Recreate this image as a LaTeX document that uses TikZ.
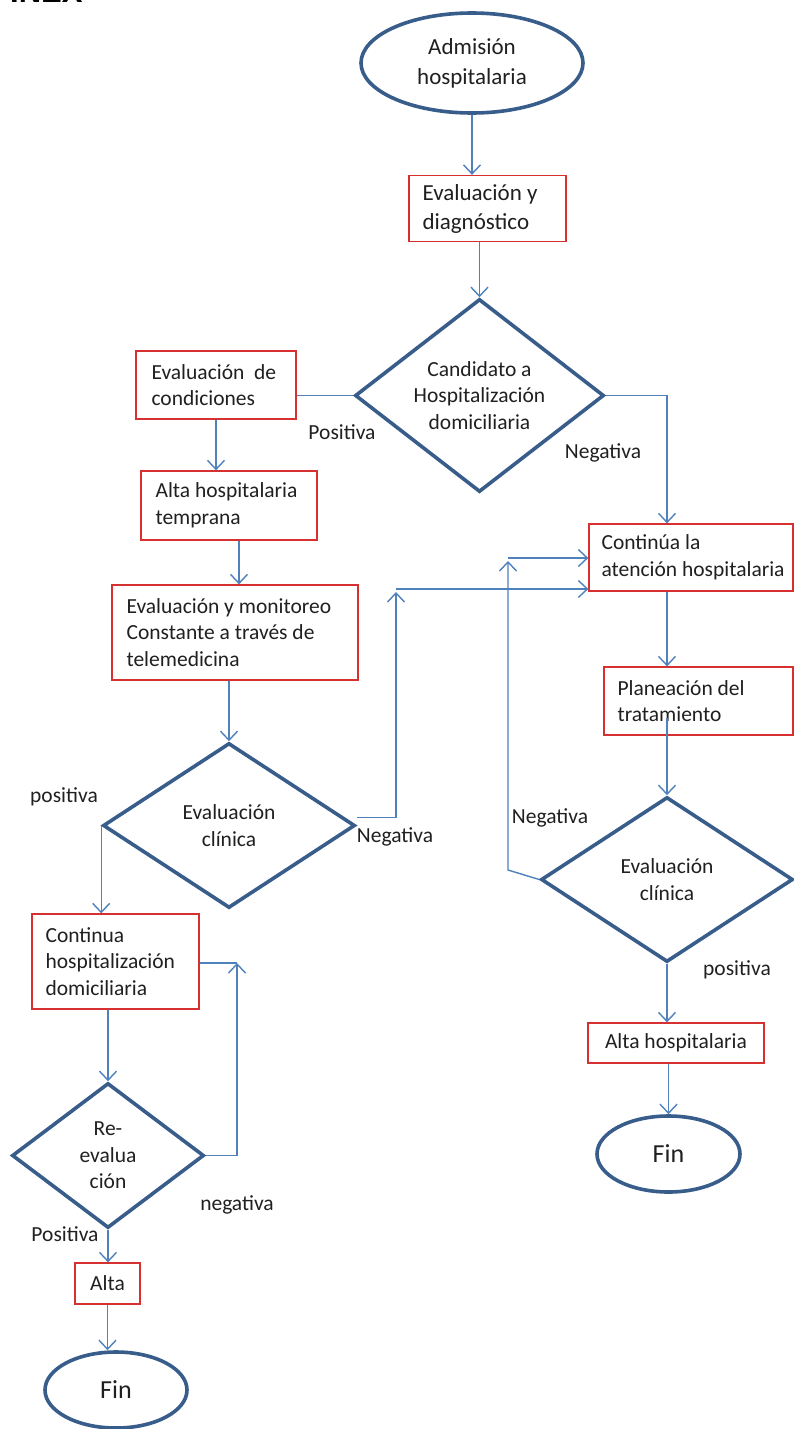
\documentclass[tikz,border=0pt]{standalone}
\usepackage{fontspec}
\setmainfont{Carlito}
\newfontfamily\headfont{Liberation Sans}
\usetikzlibrary{shapes.geometric,arrows.meta}
\definecolor{flowline}{RGB}{79,129,189}
\definecolor{shapeline}{RGB}{56,93,138}
\definecolor{boxred}{RGB}{214,48,48}
\definecolor{ink}{RGB}{32,32,32}

\begin{document}
\begin{tikzpicture}[x=1pt,y=-1pt,
  txt/.style={font=\fontsize{21.5}{26.5}\selectfont, text=ink, inner sep=0pt, align=left},
  bigtxt/.style={txt, font=\fontsize{23}{29}\selectfont},
  rbox/.style={draw=boxred, line width=1.3pt, rectangle, inner sep=0pt},
  decision/.style={draw=shapeline, line width=3.6pt, diamond, inner sep=0pt, txt, align=center, line join=miter},
  terminal/.style={draw=shapeline, line width=3.6pt, ellipse, inner sep=0pt, txt, align=center},
  ln/.style={draw=flowline, line width=1.4pt},
  arr/.style={ln, -{Straight Barb[length=9pt,width=17pt]}},
]
\fill[white] (0,0) rectangle (794,1429);
\useasboundingbox (0,0) rectangle (794,1429);

% heading, cut by the top edge
\node[anchor=base west, font=\headfont\bfseries\fontsize{31}{31}\selectfont, inner sep=0pt] (hdr) at (10,3) {INEX};

% central column
\node[terminal, font=\fontsize{23}{30}\selectfont, minimum width=222, minimum height=100] (adm) at (472,63) {Admisión\\hospitalaria};
\node[rbox, minimum width=157, minimum height=66] (eval) at (487.5,208.5) {};
\node[bigtxt, anchor=west] (evalT) at ([xshift=14pt]eval.west) {Evaluación y\\diagnóstico};
\node[decision, aspect=1.29, minimum width=249, minimum height=193] (cand) at (479.5,395.5) {Candidato a\\Hospitalización\\domiciliaria};

% home hospitalisation branch
\node[rbox, minimum width=160, minimum height=68] (cond) at (216,385) {};
\node[txt, anchor=west] (condT) at ([xshift=16pt]cond.west) {Evaluación\hspace{0.45em}de\\condiciones};
\node[rbox, minimum width=176, minimum height=69] (alta1) at (229,505.5) {};
\node[txt, anchor=west] (alta1T) at ([xshift=15pt]alta1.west) {Alta hospitalaria\\temprana};
\node[rbox, minimum width=246, minimum height=95] (mon) at (235,632.5) {};
\node[txt, anchor=west] (monT) at ([xshift=15pt]mon.west) {Evaluación y monitoreo\\Constante a través de\\telemedicina};
\node[decision, aspect=1.53, minimum width=252, minimum height=165] (dl) at (229,825.5) {Evaluación\\clínica};
\node[rbox, minimum width=167, minimum height=95] (cdom) at (115.5,961.5) {};
\node[txt, anchor=west] (cdomT) at ([xshift=14pt]cdom.west) {Continua\\hospitalización\\domiciliaria};
\node[decision, aspect=1.32, minimum width=192, minimum height=145] (re) at (108,1155.5) {Re-\\evalua\\ción};
\node[rbox, txt, minimum width=65, minimum height=41] (alta3) at (107.5,1283.5) {Alta};
\node[terminal, font=\fontsize{26}{30}\selectfont, minimum width=142, minimum height=76] (fin1) at (116,1390) {Fin};

% in-hospital branch
\node[rbox, minimum width=204, minimum height=67] (cont) at (691,557.5) {};
\node[txt, anchor=west] (contT) at ([xshift=13pt]cont.west) {Continúa la\\atención hospitalaria};
\node[rbox, minimum width=189, minimum height=68] (plan) at (698.5,701) {};
\node[txt, anchor=west] (planT) at ([xshift=14pt]plan.west) {Planeación del\\tratamiento};
\node[decision, aspect=1.53, minimum width=252, minimum height=165] (dr) at (667,879.5) {Evaluación\\clínica};
\node[rbox, txt, minimum width=176, minimum height=40] (alta2) at (676,1043) {Alta hospitalaria};
\node[terminal, font=\fontsize{26}{30}\selectfont, minimum width=143, minimum height=76] (fin2) at (668.5,1154) {Fin};

% branch labels
\node[txt] (lpos1) at (342,432) {Positiva};
\node[txt] (lneg1) at (603,453) {Negativa};
\node[txt] (lpos2) at (64,797) {positiva};
\node[txt] (lneg2) at (395,837) {Negativa};
\node[txt] (lneg3) at (550,818) {Negativa};
\node[txt] (lpos3) at (737,970) {positiva};
\node[txt] (lneg4) at (237,1205) {negativa};
\node[txt] (lpos4) at (65,1234) {Positiva};

% connectors
\coordinate (rx) at (667,0);
\draw[arr] (adm.south) -- (adm.south |- eval.north);
\draw[arr] (cand.north |- eval.south) -- (cand.north);
\draw[ln] (cand.west) -- (cand.west -| cond.east);
\draw[arr] (cand.east) -| (rx |- cont.north);
\draw[arr] (cond.south) -- (cond.south |- alta1.north);
\draw[arr] ([xshift=10pt]alta1.south) -- ([xshift=10pt]alta1.south |- mon.north);
\draw[arr] (dl.north |- mon.south) -- (dl.north);

\coordinate (up1) at (396,592);
\coordinate (h1) at (396,589);
\draw[arr] ([yshift=8pt]dl.east) -| (up1);
\draw[arr] (h1) -- (h1 -| cont.west);

\coordinate (k0) at (508,870);
\coordinate (up2) at (508,561);
\coordinate (h2) at (508,558);
\draw[arr] (dr.west) -- (k0) -- (up2);
\draw[arr] (h2) -- (h2 -| cont.west);

\draw[arr] (rx |- cont.south) -- (rx |- plan.north);
\coordinate (pin) at (667,718);
\draw[arr] (pin) -- (dr.north);
\draw[arr] (dr.south) -- (dr.south |- alta2.north);
\draw[arr] (alta2.south -| fin2.north) -- (fin2.north);

\draw[arr] (dl.west) -- (dl.west |- cdom.north);
\draw[arr] (re.north |- cdom.south) -- (re.north);
\coordinate (m) at (237,963);
\draw[arr] (re.east) -| (m);
\draw[ln] (cdom.east |- m) -- (m);
\draw[arr] (re.south) -- (re.south |- alta3.north);
\draw[arr] (alta3.south) -- (alta3.south |- fin1.north);
\end{tikzpicture}
\end{document}
